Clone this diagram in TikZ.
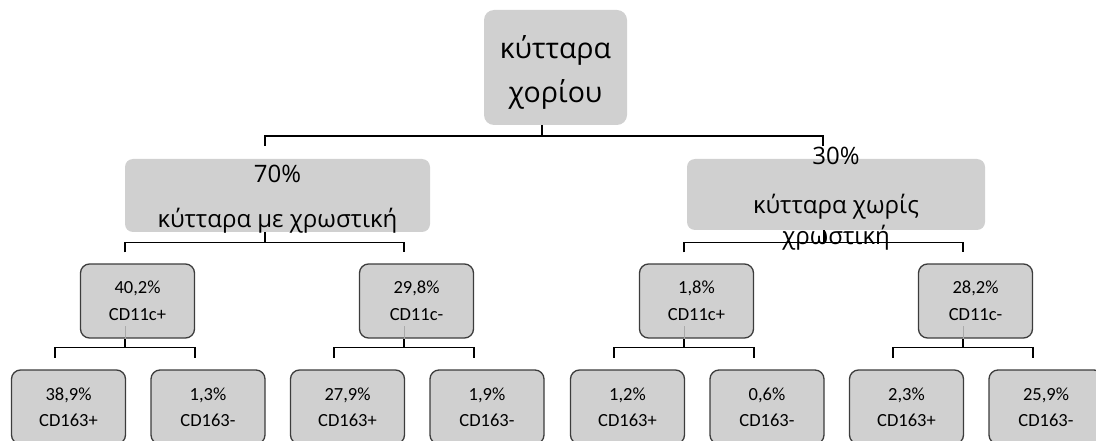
\documentclass[tikz,border=0pt]{standalone}
\usepackage{fontspec}
\setmainfont{Carlito}
\newfontfamily\grk{Open Sans}
\definecolor{boxgray}{RGB}{208,208,208}
\definecolor{boxedge}{RGB}{60,60,60}
\definecolor{ghost}{RGB}{170,170,170}
\begin{document}
\begin{tikzpicture}[x=1pt,y=-1pt,
  bigbox/.style={fill=boxgray, rounded corners=10pt, inner sep=0pt},
  smallbox/.style={fill=boxgray, draw=boxedge, line width=1.3pt, rounded corners=9pt,
    minimum width=114pt, minimum height=74pt, inner sep=0pt},
  conn/.style={draw=black, line width=1.1pt},
  ghostline/.style={draw=ghost, line width=1pt},
  toptxt/.style={font=\grk\fontsize{28.5}{28}\selectfont, anchor=base, inner sep=0pt, text=black},
  midtxt/.style={font=\grk\fontsize{24}{24}\selectfont, anchor=base, inner sep=0pt, text=black},
  smalltxt/.style={font=\fontsize{18.5}{18}\selectfont, anchor=base, inner sep=0pt, text=black}]
\useasboundingbox (0,0) rectangle (1096,441);

% ---- top box
\node[bigbox, minimum width=143pt, minimum height=115pt] (top) at (555.5,67.5) {};
\node[toptxt] (topa) at (555.5,59) {κύτταρα};
\node[toptxt] (topb) at (555.5,103) {χορίου};

% ---- level 1 boxes
\node[bigbox, rounded corners=8pt, minimum width=305pt, minimum height=73pt] (L) at (277.5,195.5) {};
\node[midtxt] (La) at (277.5,183) {70\%};
\node[midtxt] (Lb) at (277.5,227) {κύτταρα με χρωστική};

\node[bigbox, rounded corners=8pt, minimum width=298pt, minimum height=71pt] (R) at (836,194.5) {};
\node[midtxt] (Ra) at (836,165) {30\%};
\node[midtxt] (Rb) at (836,214) {κύτταρα χωρίς};
\node[midtxt] (Rc) at (836,244) {χρωστική};

% ---- connectors top -> level 1
\coordinate (t1) at (265,146);
\coordinate (t2) at (823,146);
\draw[conn] ([xshift=-13.5pt]top.south) -- ++(0,11);
\draw[conn] (t1) -- ++(0,-10) -| (t2);

% ---- level 2 boxes
\node[smallbox] (A) at (137.5,301) {};
\node[smallbox] (B) at (416.5,301) {};
\node[smallbox] (C) at (696.5,301) {};
\node[smallbox] (D) at (975.5,301) {};
\foreach \n/\p/\q in {A/40{,}2\%/CD11c+, B/29{,}8\%/CD11c-, C/1{,}8\%/CD11c+, D/28{,}2\%/CD11c-}{
  \node[smalltxt] (\n p) at ([yshift=8pt]\n.center) {\p};
  \node[smalltxt] (\n q) at ([yshift=-19pt]\n.center) {\q};
}

% ---- connectors level 1 -> level 2
\draw[conn] (L.south -| t1) -- ++(0,11);
\draw[conn] ([xshift=-12.5pt,yshift=11pt]A.north) -- ++(0,-10) -| ([xshift=-12.5pt,yshift=11pt]B.north);
\draw[conn] ([xshift=-12pt]R.south) -- ++(0,12);
\draw[conn] ([xshift=-12.5pt,yshift=11pt]C.north) -- ++(0,-10) -| ([xshift=-12.5pt,yshift=11pt]D.north);

% ---- level 3 boxes
\foreach \n in {A,B,C,D}{
  \node[smallbox] (\n1) at ([xshift=-69pt,yshift=-106pt]\n.center) {};
  \node[smallbox] (\n2) at ([xshift=70.5pt,yshift=-106pt]\n.center) {};
  \draw[ghostline] ([xshift=-12.5pt]\n.south) -- ++(0,-13);
  \draw[conn] ([xshift=-12.5pt]\n.south) -- ++(0,9);
  \draw[conn] ([xshift=-82.5pt,yshift=-19pt]\n.south) -- ++(0,-10) -| ([xshift=57.5pt,yshift=-19pt]\n.south);
}
\foreach \n/\p/\q in {A1/38{,}9\%/CD163+, A2/1{,}3\%/CD163-, B1/27{,}9\%/CD163+, B2/1{,}9\%/CD163-,
                      C1/1{,}2\%/CD163+, C2/0{,}6\%/CD163-, D1/2{,}3\%/CD163+, D2/25{,}9\%/CD163-}{
  \node[smalltxt] (\n p) at ([yshift=7pt]\n.center) {\p};
  \node[smalltxt] (\n q) at ([yshift=-19pt]\n.center) {\q};
}
\end{tikzpicture}
\end{document}
